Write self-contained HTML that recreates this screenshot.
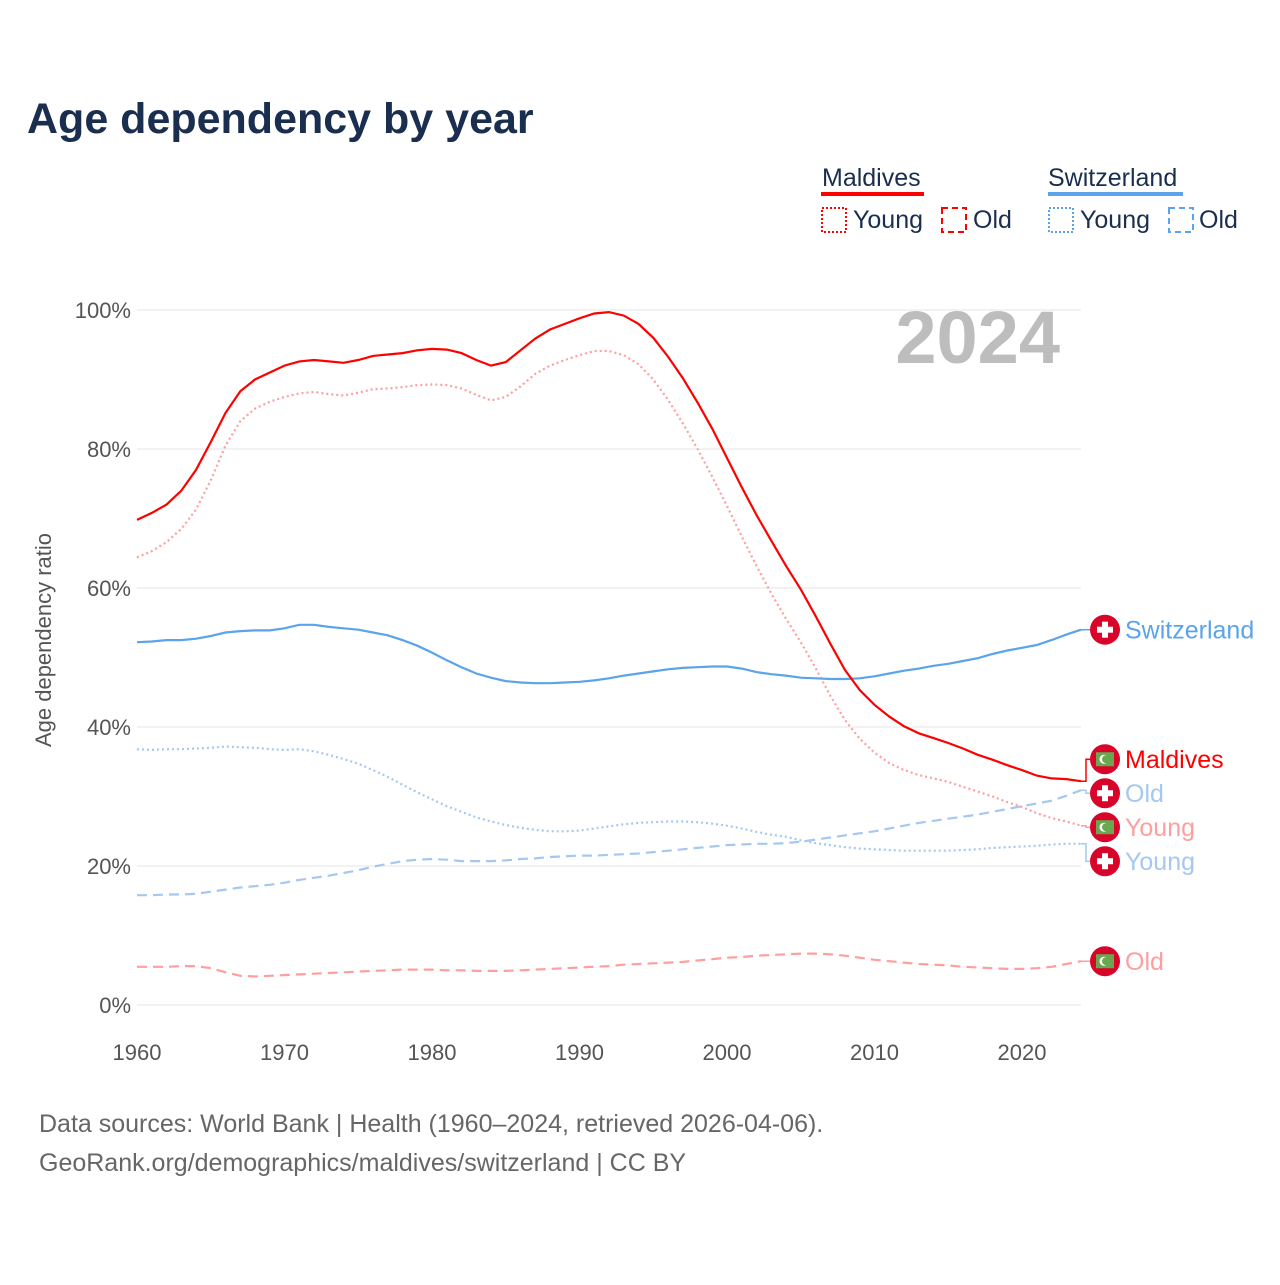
<!DOCTYPE html>
<html><head><meta charset="utf-8"><style>
body{margin:0;background:#fff;width:1280px;height:1280px;overflow:hidden;font-family:"Liberation Sans",sans-serif}
svg text{font-family:"Liberation Sans",sans-serif}
</style></head><body>
<svg id="chart" width="1280" height="1280">
<text x="27" y="133" font-size="43" font-weight="bold" fill="#1a2e4f">Age dependency by year</text>
<g>
<text x="822" y="186" font-size="25" fill="#1a2e4f">Maldives</text>
<rect x="821" y="192" width="103" height="4" fill="#ff0000"/>
<rect x="822" y="208" width="24" height="24" fill="none" stroke="#ff0000" stroke-width="2" stroke-dasharray="2,2"/>
<text x="853" y="228" font-size="25" fill="#1a2e4f">Young</text>
<rect x="942" y="208" width="24" height="24" fill="none" stroke="#ff0000" stroke-width="2" stroke-dasharray="6,4"/>
<text x="973" y="228" font-size="25" fill="#1a2e4f">Old</text>
<text x="1048" y="186" font-size="25" fill="#1a2e4f">Switzerland</text>
<rect x="1048" y="192" width="135" height="4" fill="#5ba3ea"/>
<rect x="1049" y="208" width="24" height="24" fill="none" stroke="#5ba3ea" stroke-width="2" stroke-dasharray="2,2"/>
<text x="1080" y="228" font-size="25" fill="#1a2e4f">Young</text>
<rect x="1169" y="208" width="24" height="24" fill="none" stroke="#5ba3ea" stroke-width="2" stroke-dasharray="6,4"/>
<text x="1199" y="228" font-size="25" fill="#1a2e4f">Old</text>
</g>
<text x="1060" y="363" text-anchor="end" font-size="74" font-weight="bold" fill="#bdbdbd">2024</text>
<text transform="translate(51,640) rotate(-90)" text-anchor="middle" font-size="22" fill="#555">Age dependency ratio</text>
<g id="grid"></g><g id="series"></g><g id="labels"></g>
<text x="39" y="1132" font-size="25" fill="#666">Data sources: World Bank | Health (1960–2024, retrieved 2026-04-06).</text>
<text x="39" y="1171" font-size="25" fill="#666">GeoRank.org/demographics/maldives/switzerland | CC BY</text>
</svg>
<script>
const years=[];for(let y=1960;y<=2024;y++)years.push(y);
const yTicks=[0,20,40,60,80,100];
const xTicks=[1960,1970,1980,1990,2000,2010,2020];
const mvTotal=[69.8,70.8,72,74,77,81,85.2,88.3,90,91,92,92.6,92.8,92.6,92.4,92.8,93.4,93.6,93.8,94.2,94.4,94.3,93.8,92.8,92,92.5,94.2,95.9,97.2,98,98.8,99.5,99.7,99.2,98,96,93.3,90.2,86.7,82.9,78.7,74.5,70.5,66.8,63.2,59.8,56,52,48.2,45.3,43.2,41.5,40.1,39.1,38.4,37.7,36.9,36,35.3,34.5,33.8,33,32.6,32.5,32.2];
const mvYoung=[64.4,65.3,66.6,68.5,71.3,75.5,80.5,84,85.8,86.8,87.5,88,88.2,87.9,87.7,88.1,88.6,88.7,88.9,89.2,89.3,89.2,88.7,87.8,87,87.5,89,90.8,92,92.8,93.5,94.1,94.1,93.5,92.2,90,87.1,83.7,80,76,71.8,67.4,63.2,59.2,55.6,52.2,48.5,44.5,41,38.3,36.3,34.8,33.8,33.1,32.6,32.1,31.4,30.7,30,29.2,28.5,27.6,26.9,26.4,25.8];
const mvOld=[5.5,5.5,5.5,5.6,5.6,5.3,4.7,4.2,4.1,4.2,4.3,4.4,4.5,4.6,4.7,4.8,4.9,5,5.1,5.1,5.1,5,5,4.9,4.9,4.9,5,5.1,5.2,5.3,5.4,5.5,5.6,5.8,5.9,6,6.1,6.2,6.4,6.6,6.8,6.9,7.1,7.2,7.3,7.4,7.4,7.3,7.1,6.8,6.5,6.3,6.1,5.9,5.8,5.7,5.5,5.4,5.3,5.2,5.2,5.3,5.5,5.9,6.3];
const chTotal=[52.2,52.3,52.5,52.5,52.7,53.1,53.6,53.8,53.9,53.9,54.2,54.7,54.7,54.4,54.2,54,53.6,53.2,52.5,51.7,50.7,49.6,48.6,47.7,47.1,46.6,46.4,46.3,46.3,46.4,46.5,46.7,47,47.4,47.7,48,48.3,48.5,48.6,48.7,48.7,48.4,47.9,47.6,47.4,47.1,47,46.9,46.9,47,47.3,47.7,48.1,48.4,48.8,49.1,49.5,49.9,50.5,51,51.4,51.8,52.5,53.3,54];
const chYoung=[36.8,36.7,36.8,36.8,36.9,37,37.2,37.1,37,36.8,36.7,36.8,36.5,36,35.4,34.7,33.8,32.8,31.7,30.6,29.6,28.6,27.8,27,26.4,25.9,25.5,25.2,25,25,25.1,25.4,25.7,26,26.2,26.3,26.4,26.4,26.3,26.1,25.8,25.4,24.9,24.5,24.2,23.7,23.3,23,22.7,22.5,22.4,22.3,22.2,22.2,22.2,22.2,22.3,22.4,22.6,22.7,22.8,22.9,23.1,23.2,23.2];
const chOld=[15.8,15.8,15.9,15.9,16,16.3,16.6,16.9,17.1,17.3,17.6,18,18.3,18.6,19,19.4,19.9,20.3,20.7,20.9,21,20.9,20.7,20.7,20.7,20.8,21,21.1,21.3,21.4,21.5,21.5,21.6,21.7,21.8,22,22.2,22.4,22.6,22.8,23,23.1,23.2,23.2,23.3,23.5,23.8,24.1,24.4,24.7,25,25.4,25.8,26.2,26.5,26.8,27.1,27.4,27.8,28.2,28.6,29,29.4,30.1,30.9];
const x=v=>137+(v-1960)*14.75;
const y=v=>1005-v*6.95;
const NS='http://www.w3.org/2000/svg';
function mk(t,a,p){const e=document.createElementNS(NS,t);for(const k in a)e.setAttribute(k,a[k]);p.appendChild(e);return e;}
const grid=document.getElementById('grid');
yTicks.forEach(t=>{
 const l=mk('line',{x1:137,x2:1081,y1:y(t),y2:y(t),stroke:'#e6e6e6','stroke-width':1},grid);
 
 
 const tx=mk('text',{x:131,y:y(t)+8,'text-anchor':'end','font-size':22,fill:'#555'},grid);tx.textContent=t+'%';
 
 
});
xTicks.forEach(t=>{
 const tx=mk('text',{x:x(t),y:1060,'text-anchor':'middle','font-size':22,fill:'#555'},grid);tx.textContent=t;
 
 
});
const series=[
 {d:chOld,c:'#a4c8f0',da:'10,6',n:'switzerland-old',lab:'Old',flag:'ch'},
 {d:chYoung,c:'#a4c8f0',da:'2,3',n:'switzerland-young',lab:'Young',flag:'ch'},
 {d:mvOld,c:'#ff9e9e',da:'10,6',n:'maldives-old',lab:'Old',flag:'mv'},
 {d:mvYoung,c:'#ff9e9e',da:'2,3',n:'maldives-young',lab:'Young',flag:'mv'},
 {d:chTotal,c:'#5ba3ea',da:'',n:'switzerland-total',lab:'Switzerland',flag:'ch'},
 {d:mvTotal,c:'#ff0000',da:'',n:'maldives-total',lab:'Maldives',flag:'mv'}
];
const sg=document.getElementById('series');
series.forEach(s=>{
 const p=mk('path',{d:s.d.map((v,i)=>(i?'L':'M')+x(years[i]).toFixed(1)+','+y(v).toFixed(1)).join(''),fill:'none',stroke:s.c,'stroke-width':2.2,'stroke-dasharray':s.da},sg);
 
 
});
// labels with centered cluster collision avoidance
const lg=document.getElementById('labels');
const items=series.map(s=>({s,ly:y(s.d[s.d.length-1])})).sort((a,b)=>a.ly-b.ly);
const GAP=34;
let clusters=items.map(it=>({its:[it],c:it.ly}));
let merged=true;
while(merged){
 merged=false;
 for(let i=1;i<clusters.length;i++){
  const a=clusters[i-1],b=clusters[i];
  const aBot=a.c+(a.its.length-1)*GAP/2, bTop=b.c-(b.its.length-1)*GAP/2;
  if(bTop-aBot<GAP){
   const its=a.its.concat(b.its);
   const c=its.reduce((s,t)=>s+t.ly,0)/its.length;
   clusters.splice(i-1,2,{its,c});merged=true;break;
  }
 }
}
clusters.forEach(cl=>cl.its.forEach((it,k)=>{it.yy=cl.c+(k-(cl.its.length-1)/2)*GAP;}));
items.forEach(it=>{
 const s=it.s,x0=x(2024);
 const g=mk('g',{},lg);
 
 
 mk('path',{d:`M${x0},${it.ly}L${x0+5},${it.ly}L${x0+5},${it.yy}L${x0+12},${it.yy}`,fill:'none',stroke:s.c,'stroke-width':1.5},g);
 mk('circle',{cx:1105,cy:it.yy,r:15,fill:'#d90429'},g);
 if(s.flag==='ch'){mk('rect',{x:1102,y:it.yy-8,width:6,height:16,fill:'#fff'},g);mk('rect',{x:1097,y:it.yy-3,width:16,height:6,fill:'#fff'},g);}
 else{mk('rect',{x:1096,y:it.yy-7,width:18,height:14,fill:'#6aa84f'},g);mk('circle',{cx:1104,cy:it.yy,r:4.5,fill:'#fff'},g);mk('circle',{cx:1106,cy:it.yy,r:4,fill:'#6aa84f'},g);}
 const t=mk('text',{x:1125,y:it.yy+9,'font-size':25,fill:s.c},g);t.textContent=s.lab;
});
</script>
</body></html>
